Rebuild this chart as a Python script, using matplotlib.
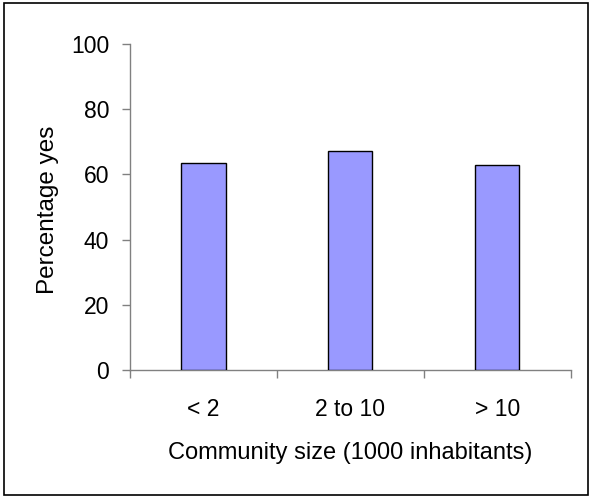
import numpy as np
import matplotlib
matplotlib.use("Agg")
import matplotlib.pyplot as plt
from matplotlib.patches import Rectangle

categories = ["< 2", "2 to 10", "> 10"]
pct_yes = [63.5, 67.1, 62.9]
yticks = [0, 20, 40, 60, 80, 100]

plt.rcParams['font.family'] = ['Liberation Sans', 'DejaVu Sans']

fig = plt.figure(figsize=(5.91, 4.97), dpi=100)
ax = fig.add_axes([0.22, 0.2555, 0.7457, 0.6564])

x = np.arange(len(categories))
ax.bar(x, pct_yes, width=0.3, color="#9999FF", edgecolor="black", linewidth=1.0, zorder=3)

ax.set_xlim(-0.5, len(categories) - 0.5)
ax.set_ylim(0, 100)
ax.set_yticks(yticks)
ax.set_xticks(x)
ax.set_xticklabels(categories)
ax.set_xticks(np.arange(len(categories) + 1) - 0.5, minor=True)

for s in ["top", "right"]:
    ax.spines[s].set_visible(False)
for s in ["left", "bottom"]:
    ax.spines[s].set_color("#808080")
    ax.spines[s].set_linewidth(1.0)

ax.tick_params(axis="y", direction="out", length=6, width=1, color="#808080",
               labelsize=16.5, pad=9)
ax.tick_params(axis="x", which="major", length=0, labelsize=16.5, pad=20)
ax.tick_params(axis="x", which="minor", direction="out", length=6, width=1, color="#808080")

ax.set_ylabel("Percentage yes", fontsize=17.5)
ax.yaxis.set_label_coords(-0.161, 0.49)
ax.set_xlabel("Community size (1000 inhabitants)", fontsize=17)
ax.xaxis.set_label_coords(0.5, -0.222)

# outer frame
fig.patches.append(Rectangle((4 / 591, 2 / 497), 584 / 591, 492 / 497,
                             transform=fig.transFigure, fill=False,
                             edgecolor="black", linewidth=1.2))

fig.savefig("out.png", dpi=100)
